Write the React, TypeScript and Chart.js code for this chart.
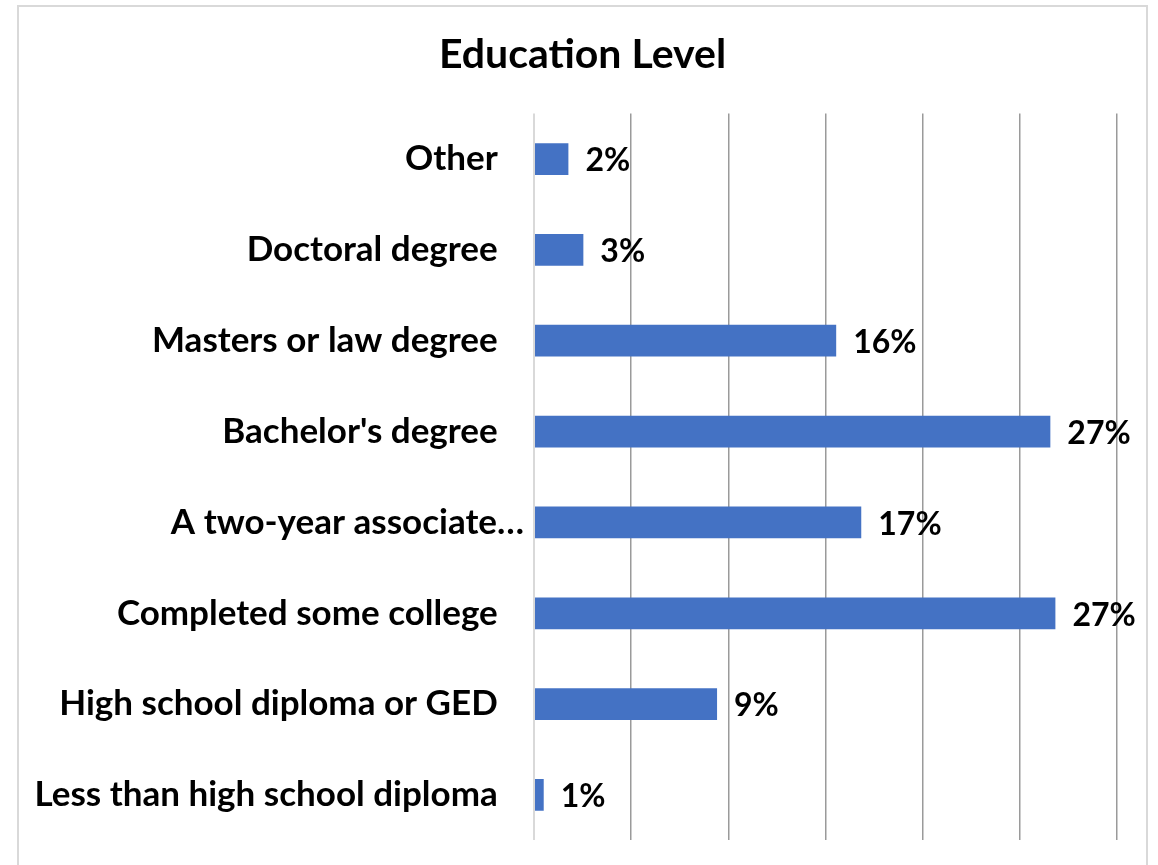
import React, { useEffect, useRef } from "react";
import { Chart, registerables } from "chart.js";

Chart.register(...registerables);

const chartTitle = "Education Level";
const categories = [
  "Other",
  "Doctoral degree",
  "Masters or law degree",
  "Bachelor's degree",
  "A two-year associate…",
  "Completed some college",
  "High school diploma or GED",
  "Less than high school diploma",
];
const truncated = [false, false, false, false, true, false, false, false];
const percentValues = [1.77, 2.54, 15.55, 26.57, 16.84, 26.83, 9.42, 0.5];
const valueLabels = ["2%", "3%", "16%", "27%", "17%", "27%", "9%", "1%"];

const FONT = "Lato, 'Open Sans', sans-serif";

export default function App() {
  const ref = useRef<HTMLCanvasElement | null>(null);

  useEffect(() => {
    if (!ref.current) return;

    const framePlugin = {
      id: "frame",
      beforeDraw(chart: any) {
        const { ctx } = chart;
        ctx.save();
        ctx.fillStyle = "#ffffff";
        ctx.fillRect(0, 0, chart.width, chart.height);
        ctx.strokeStyle = "#d9d9d9";
        ctx.lineWidth = 2;
        ctx.strokeRect(18, 6, 1129, 880);
        ctx.font = `bold 41px ${FONT}`;
        ctx.fillStyle = "#000000";
        ctx.textAlign = "center";
        ctx.textBaseline = "middle";
        ctx.fillText(chartTitle, 582.5, 54.6);
        ctx.restore();
      },
    };

    const labelPlugin = {
      id: "valueLabels",
      afterDatasetsDraw(chart: any) {
        const { ctx } = chart;
        const meta = chart.getDatasetMeta(0);
        ctx.save();
        ctx.font = `bold 32px ${FONT}`;
        ctx.fillStyle = "#000000";
        ctx.textAlign = "left";
        ctx.textBaseline = "middle";
        meta.data.forEach((bar: any, i: number) => {
          ctx.fillText(valueLabels[i], bar.x + 17, bar.y + 2);
        });
        ctx.restore();
      },
    };

    const chart = new Chart(ref.current, {
      type: "bar",
      data: {
        labels: categories,
        datasets: [
          {
            data: percentValues,
            backgroundColor: "#4472C4",
            borderWidth: 0,
            barPercentage: 0.35,
            categoryPercentage: 1,
          },
        ],
      },
      options: {
        indexAxis: "y",
        responsive: false,
        animation: false,
        layout: { padding: { left: 0, right: 41, top: 113.6, bottom: 24.6 } },
        plugins: {
          legend: { display: false },
          tooltip: { enabled: false },
          title: { display: false },
        },
        scales: {
          x: {
            min: 0,
            max: 30,
            ticks: { display: false, stepSize: 5 },
            border: { display: false },
            grid: {
              drawTicks: false,
              color: (c: any) => (c.index === 0 ? "#d9d9d9" : "#9a9a9a"),
              lineWidth: (c: any) => (c.index === 0 ? 2 : 1.5),
            },
            afterFit: (s: any) => {
              s.height = 0;
              s.paddingLeft = 0;
              s.paddingRight = 0;
              s.paddingTop = 0;
              s.paddingBottom = 0;
            },
          },
          y: {
            border: { display: false },
            grid: { display: false, drawTicks: false },
            ticks: {
              color: "#000000",
              padding: 10,
              font: { family: FONT, size: 35, weight: "bold" },
              callback: (_v: any, i: number) =>
                truncated[i] ? categories[i] : categories[i] + "\u2003",
            },
            afterFit: (s: any) => {
              s.width = 534;
              s.paddingLeft = 0;
              s.paddingRight = 0;
              s.paddingTop = 0;
              s.paddingBottom = 0;
            },
          },
        },
      },
      plugins: [framePlugin, labelPlugin],
    });

    return () => chart.destroy();
  }, []);

  return (
    <div style={{ position: "absolute", left: 0, top: 0, width: 1158, height: 865 }}>
      <canvas ref={ref} width={1158} height={865} style={{ display: "block" }} />
    </div>
  );
}
